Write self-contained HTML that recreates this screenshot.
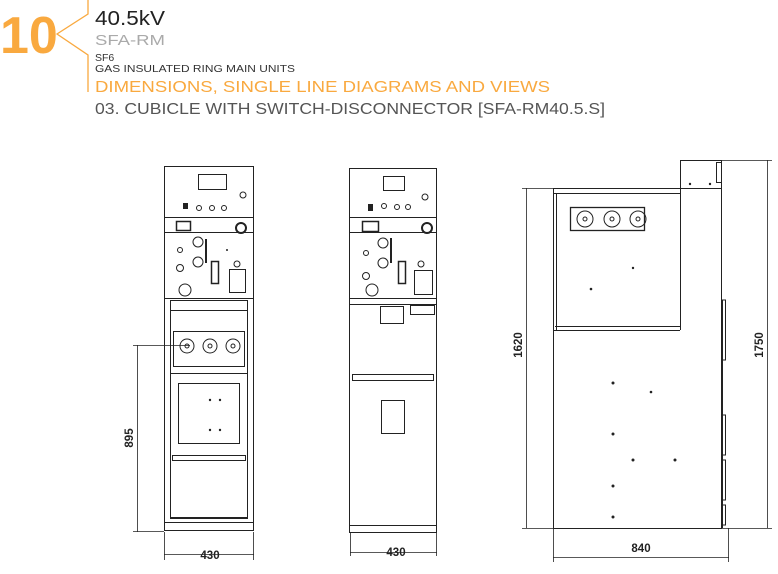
<!DOCTYPE html>
<html><head><meta charset="utf-8"><style>
html,body{margin:0;padding:0;background:#fff;}
svg{display:block;}
text{font-family:"Liberation Sans",sans-serif;}
</style></head><body>
<svg width="778" height="574" viewBox="0 0 778 574" xmlns="http://www.w3.org/2000/svg">
<!-- header -->
<text x="0" y="53" font-size="52" font-weight="bold" fill="#f9a93f">10</text>
<polyline points="88,0 88,14 57,34 88,55 88,92" fill="none" stroke="#f9a93f" stroke-width="1.3"/>
<text x="95" y="25" font-size="20" fill="#222" textLength="70" lengthAdjust="spacingAndGlyphs">40.5kV</text>
<text x="95" y="45" font-size="15" fill="#aaa" textLength="70" lengthAdjust="spacingAndGlyphs">SFA-RM</text>
<text x="95" y="61" font-size="10.5" fill="#333">SF6</text>
<text x="95" y="72" font-size="10.5" fill="#333" textLength="200" lengthAdjust="spacingAndGlyphs">GAS INSULATED RING MAIN UNITS</text>
<text x="95" y="92" font-size="16" fill="#f9a93f" textLength="455" lengthAdjust="spacingAndGlyphs">DIMENSIONS, SINGLE LINE DIAGRAMS AND VIEWS</text>
<text x="95" y="114" font-size="16" fill="#555" textLength="510" lengthAdjust="spacingAndGlyphs">03. CUBICLE WITH SWITCH-DISCONNECTOR [SFA-RM40.5.S]</text>

<g fill="none" stroke="#222" stroke-width="1">
<!-- LEFT FRONT VIEW -->
<rect x="164.5" y="166.5" width="89" height="51"/>
<rect x="198.5" y="174.5" width="28" height="15"/>
<circle cx="199" cy="208" r="2.5"/><circle cx="212" cy="208" r="2.5"/><circle cx="224" cy="208" r="2.5"/><circle cx="243" cy="195" r="3"/>
<rect x="183.5" y="203.5" width="4" height="5" fill="#222"/>
<rect x="164.5" y="217.5" width="89" height="81"/>
<rect x="176.5" y="221.5" width="14" height="9" stroke-width="1.5"/>
<circle cx="241" cy="228" r="5" stroke-width="2"/>
<line x1="164" y1="232.5" x2="254" y2="232.5"/>
<circle cx="198" cy="242" r="5"/><circle cx="198" cy="262" r="5"/>
<line x1="206" y1="239" x2="206" y2="263" stroke-width="2"/>
<circle cx="180" cy="250" r="2.5"/><circle cx="180" cy="268" r="3.5"/><circle cx="185" cy="290" r="6"/>
<rect x="211.5" y="261.5" width="7" height="22" stroke-width="1.5"/>
<rect x="229.5" y="269.5" width="16" height="23"/>
<circle cx="237" cy="264" r="3"/>
<rect x="164.5" y="298.5" width="89" height="232"/>
<rect x="170.5" y="300.5" width="77" height="218"/>
<line x1="170" y1="310.5" x2="248" y2="310.5"/>
<rect x="173.5" y="331.5" width="71" height="35"/>
<circle cx="187" cy="346" r="7"/><circle cx="210" cy="346" r="7"/><circle cx="233" cy="346" r="7"/>
<circle cx="187" cy="346" r="2"/><circle cx="210" cy="346" r="2"/><circle cx="233" cy="346" r="2"/>
<line x1="170" y1="373.5" x2="248" y2="373.5"/>
<rect x="178.5" y="383.5" width="61" height="60"/>
<rect x="172.5" y="455.5" width="73" height="5"/>
<line x1="170" y1="517.5" x2="248" y2="517.5"/>
<rect x="164.5" y="522.5" width="89" height="8"/>
<!-- dims left -->
<line x1="137.5" y1="345" x2="137.5" y2="532" stroke-width="0.8"/>
<line x1="133" y1="345.5" x2="190" y2="345.5" stroke-width="0.8"/>
<line x1="133" y1="531.5" x2="164" y2="531.5" stroke-width="0.8"/>
<line x1="164.5" y1="532" x2="164.5" y2="560" stroke-width="0.8"/>
<line x1="253.5" y1="532" x2="253.5" y2="560" stroke-width="0.8"/>
<line x1="164" y1="554.5" x2="254" y2="554.5" stroke-width="0.8"/>

<!-- MIDDLE VIEW -->
<rect x="349.5" y="168.5" width="87" height="49"/>
<rect x="383.5" y="176.5" width="21" height="14"/>
<circle cx="384" cy="206" r="2.5"/><circle cx="397" cy="207" r="2.5"/><circle cx="408" cy="207" r="2.5"/><circle cx="425" cy="197" r="3"/>
<rect x="368.5" y="204.5" width="4" height="6" fill="#222"/>
<rect x="349.5" y="217.5" width="87" height="81"/>
<rect x="362.5" y="221.5" width="16" height="10" stroke-width="1.5"/>
<circle cx="427" cy="228" r="5" stroke-width="2"/>
<line x1="349" y1="232.5" x2="437" y2="232.5"/>
<circle cx="383" cy="243" r="5"/><circle cx="383" cy="263" r="5"/>
<line x1="391" y1="238" x2="391" y2="263" stroke-width="2"/>
<circle cx="366" cy="253" r="2.5"/><circle cx="366" cy="276" r="3.5"/><circle cx="372" cy="290" r="6"/>
<rect x="398.5" y="261.5" width="7" height="22" stroke-width="1.5"/>
<rect x="414.5" y="270.5" width="18" height="24"/>
<circle cx="421" cy="264" r="3"/>
<rect x="349.5" y="298.5" width="87" height="234"/>
<line x1="349" y1="304.5" x2="437" y2="304.5"/>
<rect x="380.5" y="306.5" width="23" height="17"/>
<rect x="410.5" y="305.5" width="24" height="9"/>
<rect x="352.5" y="374.5" width="81" height="6"/>
<rect x="381.5" y="400.5" width="23" height="33"/>
<line x1="349" y1="525.5" x2="437" y2="525.5"/>
<line x1="350.5" y1="533" x2="350.5" y2="556" stroke-width="0.8"/>
<line x1="436.5" y1="533" x2="436.5" y2="556" stroke-width="0.8"/>
<line x1="350" y1="552.5" x2="437" y2="552.5" stroke-width="0.8"/>

<!-- RIGHT SIDE VIEW -->
<rect x="680.5" y="160.5" width="41" height="28"/>
<rect x="716.5" y="162.5" width="5" height="20"/>
<rect x="553.5" y="188.5" width="168" height="340"/>
<line x1="553" y1="193.5" x2="680" y2="193.5"/>
<rect x="570.5" y="207.5" width="74" height="23" stroke-width="1.3"/>
<circle cx="585" cy="219" r="8"/><circle cx="612" cy="219" r="8"/><circle cx="638" cy="219" r="8"/>
<circle cx="585" cy="219" r="2"/><circle cx="612" cy="219" r="2"/><circle cx="638" cy="219" r="2"/>
<line x1="680.5" y1="188" x2="680.5" y2="330"/>
<line x1="553" y1="330.5" x2="680" y2="330.5"/>
<line x1="555" y1="326.5" x2="680" y2="326.5"/>
<line x1="556.5" y1="194" x2="556.5" y2="330"/>
<line x1="722.5" y1="300" x2="722.5" y2="528"/>
<polyline points="722,300 725.5,300 725.5,360 722,360 M722,365 725.5,365 725.5,410 722,410"/>
<path d="M722,415 H725.5 V455 H722 M722,460 H725.5 V500 H722 M722,505 H725.5 V525 H722"/>
<!-- dims right -->
<line x1="526.5" y1="188" x2="526.5" y2="528" stroke-width="0.8"/>
<line x1="522" y1="188.5" x2="553" y2="188.5" stroke-width="0.8"/>
<line x1="522" y1="528.5" x2="553" y2="528.5" stroke-width="0.8"/>
<line x1="767.5" y1="160" x2="767.5" y2="528" stroke-width="0.8"/>
<line x1="722" y1="160.5" x2="772" y2="160.5" stroke-width="0.8"/>
<line x1="722" y1="528.5" x2="772" y2="528.5" stroke-width="0.8"/>
<line x1="553.5" y1="528" x2="553.5" y2="562" stroke-width="0.8"/>
<line x1="728.5" y1="528" x2="728.5" y2="562" stroke-width="0.8"/>
<line x1="553" y1="557.5" x2="729" y2="557.5" stroke-width="0.8"/>
</g>

<g fill="#222">
<circle cx="591" cy="289" r="1.3"/><circle cx="613" cy="383" r="1.5"/><circle cx="651" cy="392" r="1.3"/><circle cx="613" cy="434" r="1.5"/><circle cx="633" cy="460" r="1.5"/><circle cx="675" cy="460" r="1.5"/><circle cx="613" cy="486" r="1.5"/><circle cx="613" cy="517" r="1.5"/>
<circle cx="633" cy="268" r="1.2"/><circle cx="690" cy="184" r="1.2"/><circle cx="710" cy="184" r="1.2"/>
<circle cx="227" cy="250" r="1"/><circle cx="210" cy="400" r="1.2"/><circle cx="220" cy="400" r="1.2"/><circle cx="210" cy="430" r="1.2"/><circle cx="220" cy="430" r="1.2"/>
</g>

<g font-size="11.5" font-weight="bold" fill="#222" text-anchor="middle">
<text x="210" y="559">430</text>
<text x="396" y="556">430</text>
<text x="641" y="552">840</text>
<text transform="translate(133,438) rotate(-90)">895</text>
<text transform="translate(522,345) rotate(-90)">1620</text>
<text transform="translate(763,345) rotate(-90)">1750</text>
</g>
</svg>
</body></html>
